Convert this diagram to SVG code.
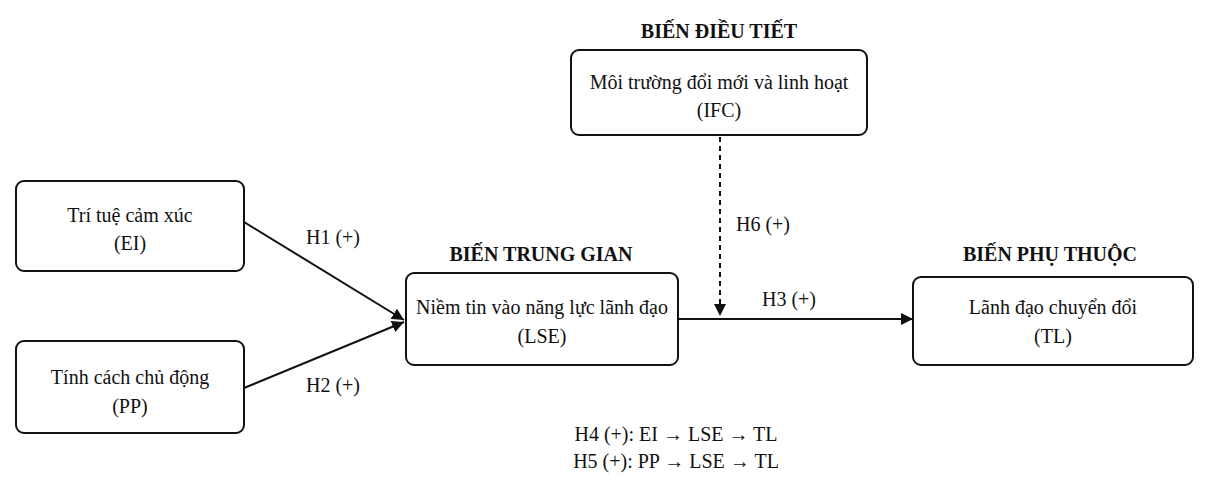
<svg xmlns="http://www.w3.org/2000/svg" width="1219" height="495" viewBox="0 0 1219 495">
<style>
text{font-family:"Liberation Serif","Times New Roman",serif;font-size:20px;fill:#111;text-anchor:middle}
.b{font-weight:bold}
rect{fill:#fff;stroke:#111;stroke-width:2}
line{stroke:#111;stroke-width:2}
</style>
<defs><marker id="a" viewBox="0 0 10 10" refX="10" refY="5" markerWidth="7" markerHeight="7" orient="auto" markerUnits="userSpaceOnUse"><path d="M0,0L10,5L0,10z" fill="#111"/></marker>
<marker id="m" viewBox="0 0 10 10" refX="10" refY="5" markerWidth="12" markerHeight="12" orient="auto" markerUnits="userSpaceOnUse"><path d="M0,0L10,5L0,10z" fill="#111"/></marker></defs>
<rect width="1219" height="495" style="stroke:none"/>
<text class="b" x="719" y="38">BIẾN ĐIỀU TIẾT</text>
<text class="b" x="541" y="261">BIẾN TRUNG GIAN</text>
<text class="b" x="1050" y="261">BIẾN PHỤ THUỘC</text>
<g id="connectors">
<line x1="244" y1="222" x2="404" y2="320" marker-end="url(#m)"/>
<line x1="244" y1="388" x2="404" y2="322" marker-end="url(#m)"/>
<line x1="678" y1="319" x2="913" y2="319" marker-end="url(#m)"/>
<line x1="720" y1="137" x2="720" y2="316" stroke-dasharray="5,4" marker-end="url(#m)"/>
<text x="333" y="244">H1 (+)</text>
<text x="333" y="392">H2 (+)</text>
<text x="763" y="231">H6 (+)</text>
<text x="789" y="306">H3 (+)</text>
</g>
<g id="EI"><rect x="16" y="181" width="228" height="90" rx="8"/><text x="130" y="222">Trí tuệ cảm xúc</text><text x="130" y="250">(EI)</text></g>
<g id="PP"><rect x="16" y="341" width="228" height="92" rx="8"/><text x="130" y="384">Tính cách chủ động</text><text x="130" y="413">(PP)</text></g>
<g id="LSE"><rect x="406" y="273" width="272" height="92" rx="8"/><text x="542" y="314">Niềm tin vào năng lực lãnh đạo</text><text x="542" y="343">(LSE)</text></g>
<g id="IFC"><rect x="571" y="50" width="296" height="85" rx="8"/><text x="719" y="89">Môi trường đổi mới và linh hoạt</text><text x="719" y="117">(IFC)</text></g>
<g id="TL"><rect x="913" y="277" width="280" height="88" rx="8"/><text x="1053" y="314">Lãnh đạo chuyển đổi</text><text x="1053" y="343">(TL)</text></g>
<text x="676" y="441">H4 (+): EI → LSE → TL</text>
<text x="676" y="468">H5 (+): PP → LSE → TL</text>
</svg>
